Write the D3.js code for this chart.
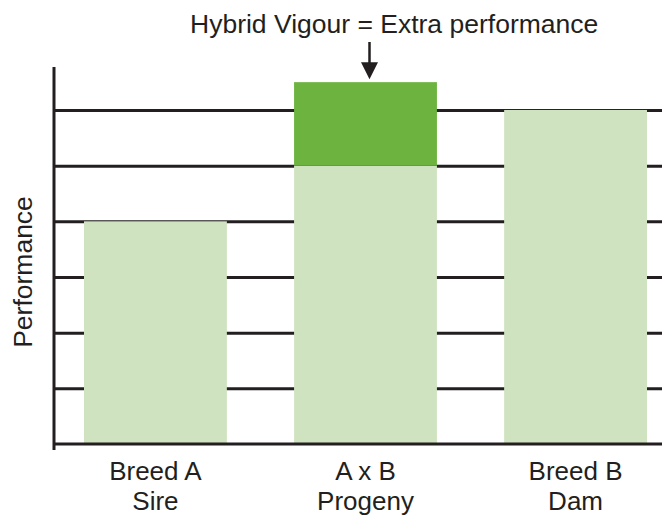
<!DOCTYPE html>
<html>
<head>
<meta charset="utf-8">
<script src="https://cdn.jsdelivr.net/npm/d3@7"></script>
<style>
  body { margin: 0; background: #fff; }
  text { font-family: "Liberation Sans", Arial, Helvetica, sans-serif; fill: #231f20; }
</style>
</head>
<body>
<div id="chart"></div>
<script>
// chart values
const categories = ["Breed A", "A x B", "Breed B"];
const subLabels = ["Sire", "Progeny", "Dam"];
const baseValues = [4, 5, 6];
const extraValues = [0, 1.5, 0];
const gridValues = [1, 2, 3, 4, 5, 6];

const W = 662, H = 515;
const axisX = 54, baseY = 444, unit = 55.67;

const svg = d3.select("#chart")
  .append("svg")
    .attr("width", W)
    .attr("height", H);

// scales
const x = d3.scaleBand()
  .domain(categories)
  .range([84, 647])
  .paddingInner(0.32)
  .paddingOuter(0);

const y = d3.scaleLinear()
  .domain([0, 7])
  .range([baseY, baseY - 7 * unit]);

// gridlines (drawn under the bars)
const grid = svg.append("g")
  .attr("transform", `translate(${axisX},0)`)
  .call(d3.axisLeft(y).tickValues(gridValues).tickSize(-(W - axisX)).tickFormat(""));
grid.select(".domain").remove();
grid.selectAll(".tick line")
  .attr("stroke", "#231f20")
  .attr("stroke-width", 3);

// base bars
svg.selectAll("rect.base")
  .data(categories)
  .join("rect")
    .attr("class", "base")
    .attr("x", d => x(d))
    .attr("width", x.bandwidth())
    .attr("y", (d, i) => y(baseValues[i]))
    .attr("height", (d, i) => y(0) - y(baseValues[i]))
    .attr("fill", "#d0e3c0");

// extra performance (hybrid vigour)
svg.selectAll("rect.extra")
  .data(categories.filter((d, i) => extraValues[i] > 0))
  .join("rect")
    .attr("class", "extra")
    .attr("x", d => x(d))
    .attr("width", x.bandwidth())
    .attr("y", d => { const i = categories.indexOf(d); return y(baseValues[i] + extraValues[i]); })
    .attr("height", d => { const i = categories.indexOf(d); return y(baseValues[i]) - y(baseValues[i] + extraValues[i]); })
    .attr("fill", "#6db33f");

// baseline
svg.append("line")
  .attr("x1", axisX).attr("x2", W)
  .attr("y1", y(0)).attr("y2", y(0))
  .attr("stroke", "#231f20")
  .attr("stroke-width", 3);

// vertical axis
svg.append("line")
  .attr("x1", axisX).attr("x2", axisX)
  .attr("y1", 67).attr("y2", y(0) + 6)
  .attr("stroke", "#231f20")
  .attr("stroke-width", 3);

// category labels, two lines each
svg.append("g")
  .selectAll("text")
  .data(categories)
  .join("text")
    .attr("text-anchor", "middle")
    .attr("font-size", "26px")
    .attr("x", d => x(d) + x.bandwidth() / 2)
    .attr("y", 480)
    .text(d => d);

svg.append("g")
  .selectAll("text")
  .data(subLabels)
  .join("text")
    .attr("text-anchor", "middle")
    .attr("font-size", "26px")
    .attr("x", (d, i) => x(categories[i]) + x.bandwidth() / 2)
    .attr("y", 510)
    .text(d => d);

// y axis title
svg.append("text")
  .attr("transform", `translate(32, ${272}) rotate(-90)`)
  .attr("text-anchor", "middle")
  .attr("font-size", "26.5px")
  .text("Performance");

// annotation
svg.append("text")
  .attr("x", 190)
  .attr("y", 33)
  .attr("font-size", "26.5px")
  .text("Hybrid Vigour = Extra performance");

const ax = x("A x B") + x.bandwidth() / 2 + 4;
const tipY = y(baseValues[1] + extraValues[1]) - 3;
svg.append("line")
  .attr("x1", ax).attr("x2", ax)
  .attr("y1", 42).attr("y2", tipY - 14)
  .attr("stroke", "#231f20")
  .attr("stroke-width", 2.5);
svg.append("path")
  .attr("d", `M${ax - 8.5},${tipY - 17} L${ax + 8.5},${tipY - 17} L${ax},${tipY} Z`)
  .attr("fill", "#231f20");
</script>
</body>
</html>
